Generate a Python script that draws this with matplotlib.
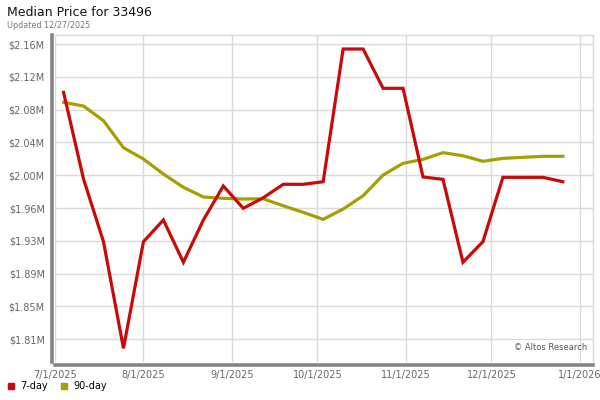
import pandas as pd
import matplotlib
matplotlib.use('Agg')
import matplotlib.pyplot as plt
from matplotlib.lines import Line2D

# weekly data points
dates = ['2025-07-04', '2025-07-11', '2025-07-18', '2025-07-25', '2025-08-01',
         '2025-08-08', '2025-08-15', '2025-08-22', '2025-08-29', '2025-09-05',
         '2025-09-12', '2025-09-19', '2025-09-26', '2025-10-03', '2025-10-10',
         '2025-10-17', '2025-10-24', '2025-10-31', '2025-11-07', '2025-11-14',
         '2025-11-21', '2025-11-28', '2025-12-05', '2025-12-12', '2025-12-19',
         '2025-12-26']

# median price in $M
price_7day = [2.1027, 2.0000, 1.9257, 1.7993, 1.9257, 1.9514, 1.9013, 1.9514,
              1.9917, 1.9653, 1.9778, 1.9937, 1.9937, 1.9968, 2.1541, 2.1541,
              2.1075, 2.1075, 2.0024, 1.9996, 1.9013, 1.9257, 2.0020, 2.0020,
              2.0020, 1.9968]
price_90day = [2.0909, 2.0865, 2.0691, 2.0371, 2.0237, 2.0059, 1.9902, 1.9787,
               1.9771, 1.9763, 1.9766, 1.9683, 1.9605, 1.9522, 1.9644, 1.9802,
               2.0047, 2.0186, 2.0233, 2.0312, 2.0276, 2.0210, 2.0245, 2.0257,
               2.0269, 2.0269]

y_ticks = [1.81, 1.8489, 1.8878, 1.9267, 1.9656, 2.0044, 2.0433, 2.0822, 2.1211, 2.16]
y_labels = ['$1.81M', '$1.85M', '$1.89M', '$1.93M', '$1.96M',
            '$2.00M', '$2.04M', '$2.08M', '$2.12M', '$2.16M']
x_ticks = ['2025-07-01', '2025-08-01', '2025-09-01', '2025-10-01',
           '2025-11-01', '2025-12-01', '2026-01-01']
x_labels = ['7/1/2025', '8/1/2025', '9/1/2025', '10/1/2025',
            '11/1/2025', '12/1/2025', '1/1/2026']

RED = '#c80a0a'
OLIVE = '#a3a000'
GRID = '#dadada'
LABEL = '#666666'

dt = pd.to_datetime(dates)

fig = plt.figure(figsize=(6, 4), dpi=100)
ax = fig.add_axes([55 / 600, 1 - 362 / 400, (593 - 55) / 600, (362 - 35) / 400])

ax.plot(dt, price_90day, color=OLIVE, lw=2.3, solid_joinstyle='miter', zorder=3)
ax.plot(dt, price_7day, color=RED, lw=2.3, solid_joinstyle='miter', zorder=4)

ax.set_xlim(pd.Timestamp('2025-07-01'), pd.Timestamp('2026-01-05 14:00'))
ax.set_ylim(1.7831, 2.1707)

ax.set_yticks(y_ticks)
ax.set_yticklabels(y_labels)
ax.set_xticks(pd.to_datetime(x_ticks))
ax.set_xticklabels(x_labels)
ax.tick_params(length=0, labelsize=7, labelcolor=LABEL)
ax.tick_params(axis='y', pad=5.5)
ax.tick_params(axis='x', pad=4)

ax.grid(True, color=GRID, lw=1)
ax.set_axisbelow(True)

for side in ['top', 'right']:
    ax.spines[side].set_color(GRID)
    ax.spines[side].set_linewidth(1)
for side in ['left', 'bottom']:
    ax.spines[side].set_color('#858585')
    ax.spines[side].set_linewidth(2.6)
    ax.spines[side].set_position(('outward', 1.8))

ax.text(0.99, 0.03, '\u00a9 Altos Research', transform=ax.transAxes,
        ha='right', va='bottom', fontsize=6, color='#555555')

fig.text(7 / 600, 1 - 12 / 400, 'Median Price for 33496', fontsize=9,
         ha='left', va='center', color='#111111')
fig.text(7 / 600, 1 - 25 / 400, 'Updated 12/27/2025', fontsize=5.8,
         ha='left', va='center', color='#777777')

handles = [Line2D([], [], marker='s', ls='none', color=RED, markersize=4.5),
           Line2D([], [], marker='s', ls='none', color=OLIVE, markersize=4.5)]
fig.legend(handles, ['7-day', '90-day'], loc='center left',
           bbox_to_anchor=(4 / 600, 1 - 386 / 400), ncol=2, frameon=False,
           fontsize=7, handlelength=0.8, handletextpad=0.6, columnspacing=1.2,
           borderaxespad=0, borderpad=0.3)

fig.savefig('out.png', dpi=100)
